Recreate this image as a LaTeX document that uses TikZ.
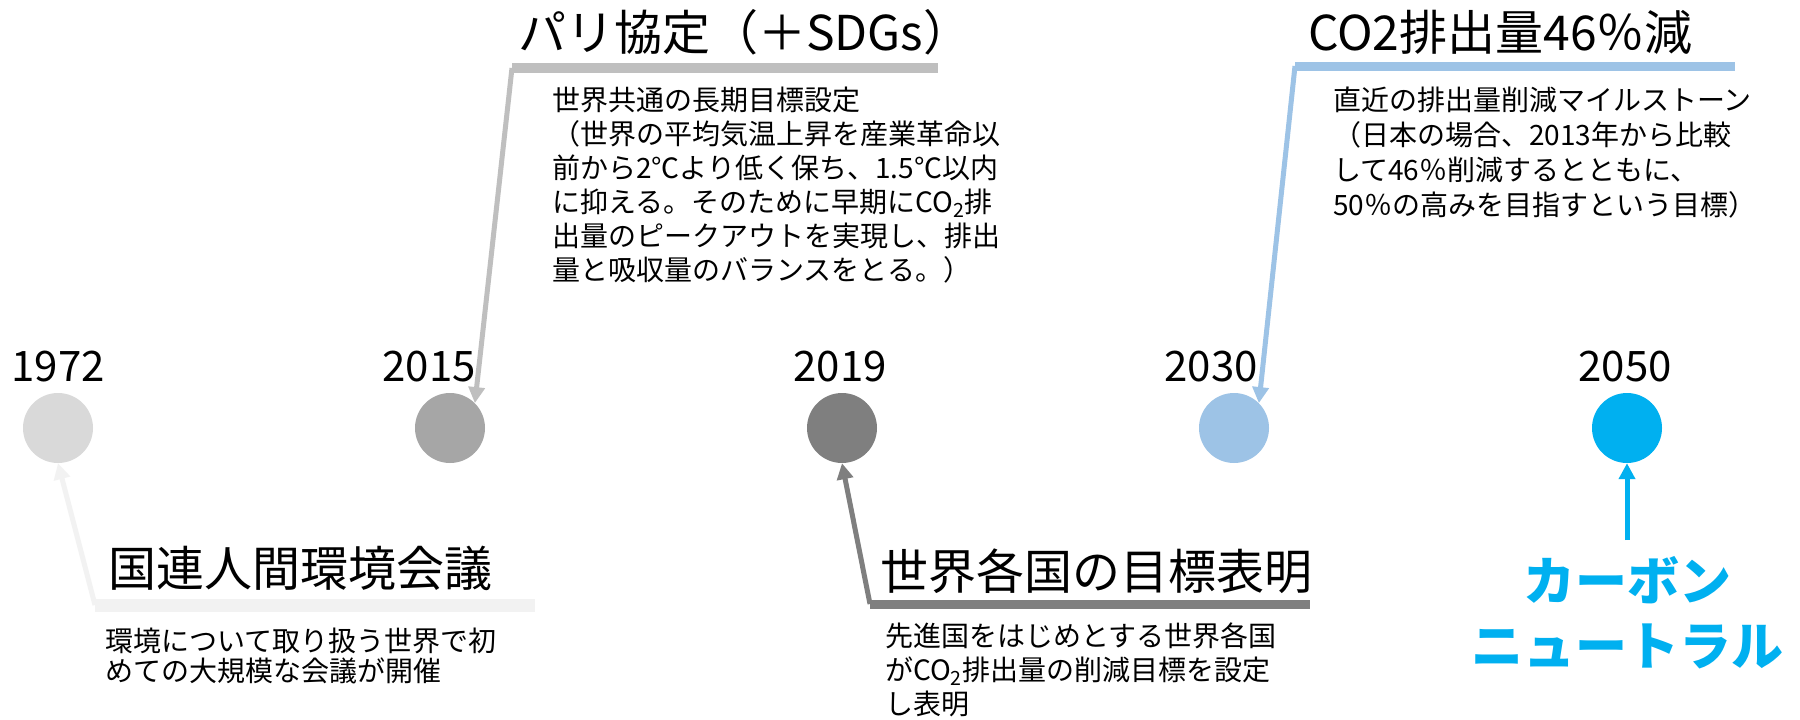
\documentclass[tikz,border=0pt]{standalone}
\usepackage{fontspec}
\setmainfont{Noto Sans CJK JP}
\usetikzlibrary{arrows.meta,backgrounds}
\definecolor{cA}{HTML}{D9D9D9}
\definecolor{cB}{HTML}{A6A6A6}
\definecolor{cC}{HTML}{7F7F7F}
\definecolor{cD}{HTML}{9DC3E6}
\definecolor{cE}{HTML}{00B0F0}
\definecolor{lA}{HTML}{F2F2F2}
\definecolor{lB}{HTML}{BFBFBF}
\definecolor{dotc}{HTML}{C8C8C8}
\begin{document}
\begin{tikzpicture}[x=1pt,y=-1pt,
  dot/.style={circle,inner sep=0pt,minimum size=70pt},
  year/.style={font=\fontsize{42}{44}\selectfont,anchor=base,inner sep=0pt},
  ttl/.style={font=\fontsize{48}{52}\selectfont,anchor=base west,inner sep=0pt},
  desc/.style={font=\fontsize{28}{34}\selectfont,anchor=base west,inner sep=0pt,align=left},
  bar/.style={line width=#1},
  conn/.style={line width=5pt,-{Triangle[length=16pt,width=16pt]}}]
\useasboundingbox[fill=white] (0,0) rectangle (1800,720);
% circles
\node[dot,fill=cA] (c1) at (58,428) {};
\node[dot,fill=cB] (c2) at (450,428) {};
\node[dot,fill=cC] (c3) at (842,428) {};
\node[dot,fill=cD] (c4) at (1234,428) {};
\node[dot,fill=cE] (c5) at (1627,428) {};
\begin{scope}[on background layer]
\draw[dotc,line width=8pt,dash pattern=on 3pt off 8pt] (c1.center) -- (c5.center);
\end{scope}
% years
\node[year] (y1) at (58,381) {1972};
\node[year] (y2) at (429,381) {2015};
\node[year] (y3) at (840,381) {2019};
\node[year] (y4) at (1211,381) {2030};
\node[year] (y5) at (1625,381) {2050};
% bars
\coordinate (b1) at (95,605);   \coordinate (b1e) at (535,605);
\coordinate (b2) at (512,68);   \coordinate (b2e) at (938,68);
\coordinate (b3) at (870,604);  \coordinate (b3e) at (1310,604);
\coordinate (b4) at (1295,66);  \coordinate (b4e) at (1735,66);
\draw[lA,bar=13pt] (b1) -- (b1e);
\draw[lB,bar=10pt] (b2) -- (b2e);
\draw[cC,bar=9pt] (b3) -- (b3e);
\draw[cD,bar=9pt] (b4) -- (b4e);
% connectors
\draw[conn,lA] (b1) -- (c1.south);
\draw[conn,lB] (b2) -- (c2.north east);
\draw[conn,cC] (b3) -- (c3.south);
\draw[conn,cD] (b4) -- (c4.north east);
\coordinate (a5) at (1627,540);
\draw[conn,cE] (a5) -- (c5.south);
% titles
\node[ttl] (t1) at (108,586) {国連人間環境会議};
\node[ttl] (t2) at (518,50) {パリ協定（＋SDGs）};
\node[ttl] (t3) at (880,589) {世界各国の目標表明};
\node[ttl] (t4) at (1308,50) {CO2排出量46％減};
% descriptions (anchor = baseline of last line)
\node[desc,font=\fontsize{28}{30}\selectfont] (d1) at (105,681) {環境について取り扱う世界で初\\めての大規模な会議が開催};
\node[desc] (d2) at (552,280) {世界共通の長期目標設定\\（世界の平均気温上昇を産業革命以\\前から2℃より低く保ち、1.5℃以内\\に抑える。そのために早期にCO\textsubscript{2}排\\出量のピークアウトを実現し、排出\\量と吸収量のバランスをとる。）};
\node[desc] (d3) at (885,714) {先進国をはじめとする世界各国\\がCO\textsubscript{2}排出量の削減目標を設定\\し表明};
\node[desc,font=\fontsize{28}{35}\selectfont] (d4) at (1333,215) {直近の排出量削減マイルストーン\\（日本の場合、2013年から比較\\して46％削減するとともに、\\50％の高みを目指すという目標）};
% carbon neutral
\node[font=\fontsize{52}{65}\selectfont\bfseries,text=cE,align=center,anchor=base,inner sep=0pt] (cn) at (1627,665) {カーボン\\ニュートラル};
\end{tikzpicture}
\end{document}
